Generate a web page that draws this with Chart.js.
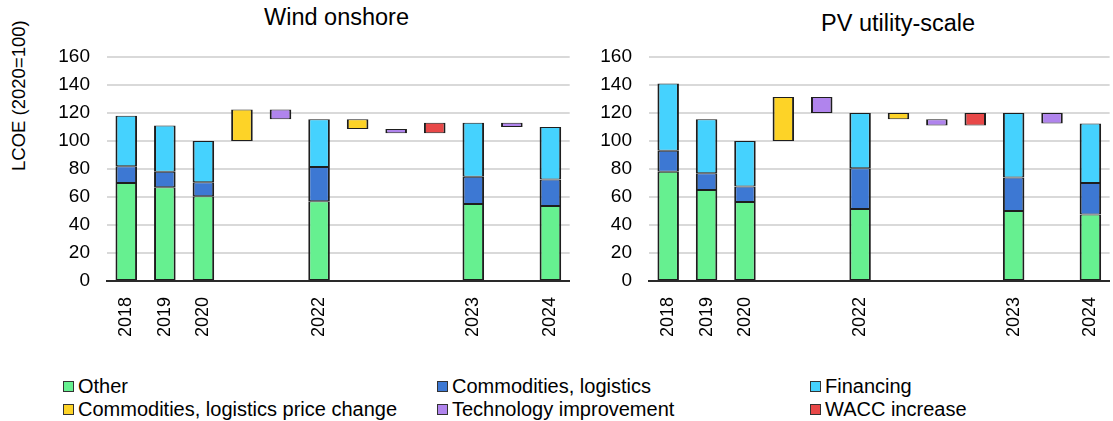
<!DOCTYPE html>
<html>
<head>
<meta charset="utf-8">
<script src="https://cdn.jsdelivr.net/npm/chart.js@4.4.1/dist/chart.umd.min.js"></script>
<style>
  body { margin: 0; width: 1113px; height: 421px; overflow: hidden; background: #fff; position: relative;
         font-family: "Liberation Sans", Arial, sans-serif; color: #000; }
  canvas { position: absolute; top: 0; }
  #wind { left: 0; }
  #pv { left: 560px; }
  .title { position: absolute; font-size: 23.5px; white-space: nowrap; }
  .ytitle { position: absolute; font-size: 18.5px; white-space: nowrap; transform-origin: 0 0; transform: rotate(-90deg); }
  .legend { position: absolute; font-size: 20px; white-space: nowrap; display: flex; align-items: center; }
  .legend span.box { display: inline-block; width: 9px; height: 9px; border: 1px solid #333; margin-right: 4px; }
</style>
</head>
<body>
<div class="title" style="left:264px; top:4px;">Wind onshore</div>
<div class="title" style="left:821px; top:10px;">PV utility-scale</div>
<div class="ytitle" style="left:8px; top:171px;">LCOE (2020=100)</div>

<canvas id="wind" width="580" height="341"></canvas>
<canvas id="pv" width="560" height="341"></canvas>

<div id="legend"></div>

<script>
const labels = ['2018', '2019', '2020', '', '', '2022', '', '', '', '2023', '', '2024']

// Wind onshore
const windOther       = [70, 67, 60.5, null, null, 57, null, null, null, 55, null, 53.5]
const windCommodities = [12, 11, 10, null, null, 24.5, null, null, null, 19.5, null, 19]
const windFinancing   = [36, 33, 29.5, null, null, 34, null, null, null, 38.5, null, 37.5]
const windPriceChange = [null, null, null, [100, 122.5], null, null, [108.5, 115.5], null, null, null, null, null]
const windTech        = [null, null, null, null, [115.5, 122.5], null, null, [105.5, 108.5], null, null, [110, 113], null]
const windWacc        = [null, null, null, null, null, null, null, null, [105.5, 113], null, null, null]

// PV utility-scale
const pvOther       = [78, 65, 56.5, null, null, 51.5, null, null, null, 50, null, 47.5]
const pvCommodities = [15, 12, 11, null, null, 29, null, null, null, 24, null, 22.5]
const pvFinancing   = [48, 38.5, 32.5, null, null, 39.5, null, null, null, 46, null, 42.5]
const pvPriceChange = [null, null, null, [100, 131.5], null, null, [115.5, 120], null, null, null, null, null]
const pvTech        = [null, null, null, null, [120, 131.5], null, null, [111, 115.5], null, null, [112.5, 120], null]
const pvWacc        = [null, null, null, null, null, null, null, null, [111, 120], null, null, null]

const seriesNames = ['Other', 'Commodities, logistics', 'Financing',
  'Commodities, logistics price change', 'Technology improvement', 'WACC increase']
const colors = ['#66f090', '#3d78d3', '#45d2fe', '#fdd327', '#b084ed', '#e84848']

function datasets(seriesList) {
  return seriesList.map((values, i) => ({
    label: seriesNames[i],
    data: values,
    backgroundColor: colors[i],
    borderColor: '#1e1e1e',
    borderWidth: { left: 2, right: 2, top: 1, bottom: 1 },
    borderSkipped: false,
    categoryPercentage: 1,
    barPercentage: 0.56
  }))
}

function options(yWidth) {
  return {
    responsive: false,
    animation: false,
    layout: { padding: { top: 57, left: 0, right: 0, bottom: 0 } },
    plugins: { legend: { display: false }, tooltip: { enabled: false } },
    scales: {
      x: {
        stacked: true,
        grid: { display: false },
        border: { display: true, color: '#2a2a2a', width: 2 },
        ticks: {
          autoSkip: false, minRotation: 90, maxRotation: 90, padding: 8,
          color: '#000', font: { family: '"Liberation Sans", Arial', size: 18 }
        },
        afterFit: scale => { scale.height = 60 }
      },
      y: {
        stacked: true,
        min: 0,
        max: 160,
        grid: { color: '#d9d9d9', lineWidth: 2, drawTicks: false },
        border: { display: false },
        ticks: {
          stepSize: 20, padding: 17,
          color: '#000', font: { family: '"Liberation Sans", Arial', size: 19 }
        },
        afterFit: scale => { scale.width = yWidth }
      }
    }
  }
}

new Chart(document.getElementById('wind'), {
  type: 'bar',
  data: {
    labels: labels,
    datasets: datasets([windOther, windCommodities, windFinancing, windPriceChange, windTech, windWacc])
  },
  options: options(107)
})

new Chart(document.getElementById('pv'), {
  type: 'bar',
  data: {
    labels: labels,
    datasets: datasets([pvOther, pvCommodities, pvFinancing, pvPriceChange, pvTech, pvWacc])
  },
  options: options(89)
})

// legend, two rows of three
const legendPos = [[63, 387], [437, 387], [810, 387], [63, 410], [437, 410], [810, 410]]
const legend = document.getElementById('legend')
seriesNames.forEach((name, i) => {
  const item = document.createElement('div')
  item.className = 'legend'
  item.style.left = legendPos[i][0] + 'px'
  item.style.top = (legendPos[i][1] - 12) + 'px'
  item.innerHTML = '<span class="box" style="background:' + colors[i] + '"></span>' + name
  legend.appendChild(item)
})
</script>
</body>
</html>
